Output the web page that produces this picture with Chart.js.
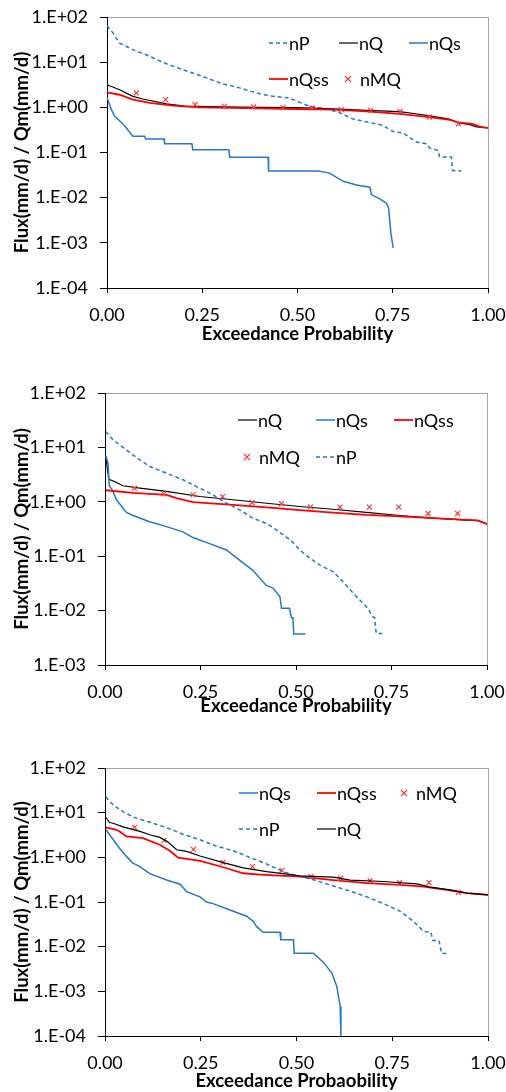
<!DOCTYPE html>
<html><head><meta charset="utf-8">
<script src="https://cdn.jsdelivr.net/npm/chart.js@4.4.1/dist/chart.umd.min.js"></script>
<style>
html,body{margin:0;padding:0;background:#fff;width:506px;height:1092px;overflow:hidden;}
.box{position:absolute;left:0;width:506px;}
canvas{display:block;}
</style></head><body>
<div class="box" style="top:0px;height:345px"><canvas id="c1" width="506" height="345"></canvas></div>
<div class="box" style="top:345px;height:372px"><canvas id="c2" width="506" height="372"></canvas></div>
<div class="box" style="top:717px;height:375px"><canvas id="c3" width="506" height="375"></canvas></div>
<script>
// ---------- shared tick data ----------
const xTickValues = [0, 0.25, 0.5, 0.75, 1];
const xTickLabels = ['0.00', '0.25', '0.50', '0.75', '1.00'];
const yTickValues6 = [1e-4, 1e-3, 1e-2, 1e-1, 1, 10, 100];
const yTickLabels6 = ['1.E-04', '1.E-03', '1.E-02', '1.E-01', '1.E+00', '1.E+01', '1.E+02'];
const yTickValues5 = [1e-3, 1e-2, 1e-1, 1, 10, 100];
const yTickLabels5 = ['1.E-03', '1.E-02', '1.E-01', '1.E+00', '1.E+01', '1.E+02'];
const yTitle = 'Flux(mm/d) / Qm(mm/d)';
const xTitle1 = 'Exceedance Probability';
const xTitle2 = 'Exceedance Probability';
const xTitle3 = 'Exceedance Probaobility';
const nMQ_x = [0.077, 0.154, 0.231, 0.308, 0.385, 0.462, 0.538, 0.615, 0.692, 0.769, 0.846, 0.923];

// ---------- chart 1 ----------
const c1_nP_x = [0, 0.016, 0.033, 0.068, 0.103, 0.156, 0.199, 0.252, 0.304, 0.348, 0.392, 0.427, 0.479, 0.532, 0.584, 0.611, 0.646, 0.690, 0.724, 0.751, 0.777, 0.812, 0.838, 0.847, 0.869, 0.873, 0.904, 0.907, 0.930];
const c1_nP_y = [64, 44, 26.5, 18.9, 14.6, 9.2, 6.8, 4.8, 3.3, 2.7, 2.08, 1.8, 1.6, 1.05, 0.89, 0.76, 0.55, 0.46, 0.40, 0.29, 0.27, 0.17, 0.157, 0.126, 0.111, 0.079, 0.079, 0.040, 0.039];
const c1_nQ_x = [0, 0.033, 0.068, 0.094, 0.156, 0.204, 0.30, 0.40, 0.50, 0.593, 0.681, 0.768, 0.81, 0.847, 0.899, 0.921, 0.95, 0.97, 1.0];
const c1_nQ_y = [3.17, 2.45, 1.75, 1.53, 1.19, 1.06, 1.02, 1.0, 0.99, 0.92, 0.86, 0.80, 0.72, 0.65, 0.55, 0.45, 0.42, 0.37, 0.35];
const c1_nQs_x = [0, 0.0115, 0.020, 0.038, 0.051, 0.064, 0.068, 0.099, 0.101, 0.150, 0.151, 0.223, 0.225, 0.320, 0.322, 0.423, 0.424, 0.554, 0.584, 0.620, 0.655, 0.690, 0.694, 0.716, 0.733, 0.739, 0.745, 0.751];
const c1_nQs_y = [1.66, 0.89, 0.63, 0.46, 0.35, 0.25, 0.23, 0.23, 0.20, 0.20, 0.157, 0.157, 0.115, 0.115, 0.078, 0.078, 0.039, 0.039, 0.035, 0.023, 0.019, 0.017, 0.0117, 0.0094, 0.0076, 0.0059, 0.00166, 0.00077];
const c1_nQss_x = [0, 0.033, 0.068, 0.112, 0.173, 0.243, 0.40, 0.462, 0.593, 0.681, 0.768, 0.847, 0.90, 0.925, 0.96, 0.98, 1.0];
const c1_nQss_y = [2.14, 1.9, 1.48, 1.25, 1.09, 1.0, 0.95, 0.93, 0.89, 0.81, 0.72, 0.61, 0.53, 0.46, 0.43, 0.37, 0.35];
const c1_nMQ_y = [2.08, 1.48, 1.14, 1.05, 1.02, 1.0, 0.97, 0.89, 0.86, 0.81, 0.61, 0.43];

// ---------- chart 2 ----------
const c2_nQ_x = [0.002, 0.010, 0.025, 0.047, 0.091, 0.161, 0.248, 0.335, 0.423, 0.510, 0.597, 0.684, 0.772, 0.859, 0.946, 0.976, 1.0];
const c2_nQ_y = [6.8, 2.6, 2.36, 1.97, 1.78, 1.55, 1.25, 1.09, 0.94, 0.82, 0.73, 0.64, 0.56, 0.50, 0.46, 0.45, 0.39];
const c2_nQs_x = [0.002, 0.008, 0.011, 0.021, 0.030, 0.056, 0.073, 0.117, 0.161, 0.204, 0.230, 0.274, 0.318, 0.353, 0.387, 0.422, 0.440, 0.458, 0.462, 0.483, 0.488, 0.492, 0.494, 0.525];
const c2_nQs_y = [7.0, 5.1, 2.0, 1.55, 1.09, 0.64, 0.56, 0.43, 0.35, 0.28, 0.22, 0.17, 0.13, 0.084, 0.055, 0.029, 0.026, 0.018, 0.011, 0.011, 0.0074, 0.0074, 0.0037, 0.0037];
const c2_nQss_x = [0.002, 0.073, 0.161, 0.187, 0.230, 0.335, 0.423, 0.510, 0.597, 0.684, 0.772, 0.859, 0.946, 0.976, 1.0];
const c2_nQss_y = [1.63, 1.46, 1.34, 1.17, 0.99, 0.88, 0.79, 0.70, 0.635, 0.575, 0.54, 0.50, 0.466, 0.455, 0.39];
const c2_nMQ_y = [1.78, 1.40, 1.34, 1.25, 0.97, 0.92, 0.81, 0.80, 0.80, 0.80, 0.61, 0.61];
const c2_nP_x = [0.002, 0.021, 0.073, 0.117, 0.161, 0.204, 0.248, 0.283, 0.318, 0.353, 0.387, 0.423, 0.466, 0.490, 0.510, 0.536, 0.562, 0.597, 0.623, 0.655, 0.680, 0.688, 0.700, 0.706, 0.710, 0.726];
const c2_nP_y = [19.6, 13.8, 7.3, 4.46, 3.36, 2.54, 1.78, 1.34, 0.94, 0.71, 0.50, 0.40, 0.25, 0.186, 0.13, 0.092, 0.069, 0.052, 0.034, 0.019, 0.0127, 0.011, 0.0078, 0.0074, 0.0038, 0.0038];

// ---------- chart 3 ----------
const c3_nQs_x = [0.002, 0.021, 0.038, 0.056, 0.073, 0.091, 0.117, 0.161, 0.196, 0.213, 0.248, 0.265, 0.282, 0.335, 0.370, 0.387, 0.396, 0.413, 0.457, 0.459, 0.492, 0.494, 0.544, 0.570, 0.592, 0.605, 0.614, 0.616];
const c3_nQs_y = [4.2, 2.5, 1.6, 1.05, 0.74, 0.62, 0.43, 0.31, 0.25, 0.17, 0.13, 0.10, 0.092, 0.062, 0.048, 0.037, 0.028, 0.021, 0.021, 0.0142, 0.0142, 0.0071, 0.0071, 0.0045, 0.0026, 0.0013, 0.00046, 0.0001];
const c3_nQss_x = [0.002, 0.030, 0.038, 0.056, 0.099, 0.143, 0.169, 0.191, 0.248, 0.309, 0.361, 0.405, 0.509, 0.596, 0.684, 0.771, 0.832, 0.901, 0.945, 1.0];
const c3_nQss_y = [4.7, 4.14, 3.8, 2.93, 2.69, 1.91, 1.4, 0.98, 0.83, 0.6, 0.44, 0.41, 0.37, 0.31, 0.265, 0.243, 0.22, 0.182, 0.158, 0.145];
const c3_nMQ_y = [4.7, 2.4, 1.5, 0.77, 0.62, 0.51, 0.37, 0.34, 0.30, 0.27, 0.27, 0.165];
const c3_nP_x = [0.002, 0.021, 0.047, 0.073, 0.117, 0.161, 0.204, 0.248, 0.291, 0.335, 0.378, 0.422, 0.465, 0.487, 0.509, 0.536, 0.588, 0.640, 0.684, 0.727, 0.771, 0.805, 0.832, 0.851, 0.856, 0.872, 0.879, 0.894];
const c3_nP_y = [22.8, 15, 10.6, 8.0, 6.1, 4.6, 3.3, 2.47, 1.78, 1.4, 1.0, 0.71, 0.48, 0.42, 0.37, 0.33, 0.24, 0.175, 0.13, 0.092, 0.062, 0.037, 0.022, 0.021, 0.0138, 0.0138, 0.0070, 0.0070];
const c3_nQ_x = [0.002, 0.012, 0.021, 0.047, 0.091, 0.117, 0.143, 0.163, 0.187, 0.213, 0.248, 0.309, 0.361, 0.422, 0.465, 0.509, 0.596, 0.640, 0.727, 0.814, 0.849, 0.901, 0.945, 1.0];
const c3_nQ_y = [7.9, 6.0, 5.8, 4.8, 3.8, 3.2, 2.8, 2.26, 1.48, 1.36, 1.07, 0.76, 0.58, 0.48, 0.43, 0.385, 0.36, 0.31, 0.288, 0.255, 0.215, 0.187, 0.158, 0.145];

// ---------- styling ----------
const BLUE = 'rgb(36,120,204)';
const RED = 'rgb(255,0,0)';
const MARK = 'rgb(245,60,60)';
const BLACK = '#000';
const FONT = 'Lato, "Liberation Sans", sans-serif';
Chart.defaults.font.family = FONT;
Chart.defaults.color = '#000';

function pts(xs, ys) { return xs.map((x, i) => ({ x: x, y: ys[i] })); }

function ds(label, xs, ys) {
  const base = { label: label, data: pts(xs, ys), pointRadius: 0, fill: false, tension: 0 };
  if (label === 'nP') return Object.assign(base, { borderColor: BLUE, borderWidth: 1.5, borderDash: [4, 3] });
  if (label === 'nQ') return Object.assign(base, { borderColor: BLACK, borderWidth: 1.2 });
  if (label === 'nQs') return Object.assign(base, { borderColor: BLUE, borderWidth: 1.5 });
  if (label === 'nQss') return Object.assign(base, { borderColor: RED, borderWidth: 1.8 });
  return Object.assign(base, { showLine: false, pointRadius: 3.5, pointStyle: 'crossRot', borderColor: MARK, backgroundColor: MARK, pointBorderWidth: 1.2, borderWidth: 1.2 });
}

const framePlugin = {
  id: 'frame',
  beforeDraw(chart) {
    const a = chart.chartArea, c = chart.ctx;
    c.save();
    c.strokeStyle = '#a6a6a6';
    c.lineWidth = 1;
    c.strokeRect(Math.round(a.left) + 0.5, Math.round(a.top) + 0.5, Math.round(a.right - a.left), Math.round(a.bottom - a.top));
    c.restore();
  }
};

const legendPlugin = {
  id: 'customLegend',
  afterDraw(chart, args, opts) {
    const c = chart.ctx;
    c.save();
    c.font = '18px ' + FONT;
    c.textBaseline = 'middle';
    c.textAlign = 'left';
    (opts.items || []).forEach(it => {
      const d = chart.data.datasets.find(s => s.label === it.label);
      if (!d) return;
      if (d.showLine === false) {
        const r = 3;
        c.strokeStyle = d.borderColor; c.lineWidth = 1.2; c.setLineDash([]);
        c.beginPath();
        c.moveTo(it.x - r, it.y - r); c.lineTo(it.x + r, it.y + r);
        c.moveTo(it.x + r, it.y - r); c.lineTo(it.x - r, it.y + r);
        c.stroke();
        c.fillStyle = '#000';
        c.fillText(it.label, it.x + 12, it.y + 1);
      } else {
        c.strokeStyle = d.borderColor; c.lineWidth = d.borderWidth; c.setLineDash(d.borderDash || []);
        c.beginPath(); c.moveTo(it.x, it.y); c.lineTo(it.x + 19, it.y); c.stroke();
        c.setLineDash([]);
        c.fillStyle = '#000';
        c.fillText(it.label, it.x + 20, it.y + 1);
      }
    });
    c.restore();
  }
};

function makeChart(id, g) {
  const n = g.datasets.length;
  g.datasets.forEach((d, i) => { d.order = n - i; });
  return new Chart(document.getElementById(id), {
    type: 'line',
    data: { datasets: g.datasets },
    plugins: [framePlugin, legendPlugin],
    options: {
      responsive: false, animation: false, devicePixelRatio: 1,
      layout: { padding: { top: g.top, right: g.right, left: 0, bottom: 0 } },
      plugins: { legend: { display: false }, tooltip: { enabled: false }, customLegend: { items: g.legend } },
      scales: {
        x: {
          type: 'linear', min: 0, max: 1,
          afterBuildTicks: s => { s.ticks = xTickValues.map(v => ({ value: v })); },
          afterFit: s => { s.height = g.H - g.bottom; },
          ticks: { callback: (v, i) => xTickLabels[i], padding: 0, font: { size: 18, lineHeight: 2.44 }, color: '#000', maxRotation: 0, autoSkip: false },
          grid: { display: true, drawOnChartArea: false, drawTicks: true, tickLength: 5, color: '#000', lineWidth: 1 },
          border: { display: true, color: '#000', width: 1 },
          title: { display: true, text: g.xTitle, font: { size: 18.5, weight: 'bold' }, color: '#000', padding: { top: 0, bottom: 0 } }
        },
        y: {
          type: 'logarithmic', min: g.yVals[0], max: 100,
          afterBuildTicks: s => { s.ticks = g.yVals.map(v => ({ value: v })); },
          afterFit: s => { s.width = g.left; },
          ticks: { callback: (v, i) => g.yLabels[i], padding: 12, font: { size: 18, lineHeight: 0.5 }, color: '#000', autoSkip: false },
          grid: { display: true, drawOnChartArea: false, drawTicks: true, tickLength: 7, color: '#000', lineWidth: 1 },
          border: { display: true, color: '#000', width: 1 },
          title: { display: true, text: yTitle, font: { size: 18.5, weight: 'bold' }, color: '#000', padding: { top: 11, bottom: 0 } }
        }
      }
    }
  });
}

makeChart('c1', {
  H: 345, top: 17, bottom: 288, left: 107, right: 18, xTitle: xTitle1,
  yVals: yTickValues6, yLabels: yTickLabels6,
  datasets: [ds('nP', c1_nP_x, c1_nP_y), ds('nQ', c1_nQ_x, c1_nQ_y), ds('nQs', c1_nQs_x, c1_nQs_y), ds('nQss', c1_nQss_x, c1_nQss_y), ds('nMQ', nMQ_x, c1_nMQ_y)],
  legend: [
    { label: 'nP', x: 269, y: 43 }, { label: 'nQ', x: 339, y: 43 }, { label: 'nQs', x: 409, y: 43 },
    { label: 'nQss', x: 269, y: 79 }, { label: 'nMQ', x: 348, y: 79 }
  ]
});
makeChart('c2', {
  H: 372, top: 48, bottom: 320, left: 105, right: 19, xTitle: xTitle2,
  yVals: yTickValues5, yLabels: yTickLabels5,
  datasets: [ds('nQ', c2_nQ_x, c2_nQ_y), ds('nQs', c2_nQs_x, c2_nQs_y), ds('nQss', c2_nQss_x, c2_nQss_y), ds('nMQ', nMQ_x, c2_nMQ_y), ds('nP', c2_nP_x, c2_nP_y)],
  legend: [
    { label: 'nQ', x: 238, y: 75 }, { label: 'nQs', x: 316, y: 75 }, { label: 'nQss', x: 394, y: 75 },
    { label: 'nMQ', x: 247, y: 112 }, { label: 'nP', x: 316, y: 112 }
  ]
});
makeChart('c3', {
  H: 375, top: 51, bottom: 319, left: 105, right: 18, xTitle: xTitle3,
  yVals: yTickValues6, yLabels: yTickLabels6,
  datasets: [ds('nQs', c3_nQs_x, c3_nQs_y), ds('nQss', c3_nQss_x, c3_nQss_y), ds('nMQ', nMQ_x, c3_nMQ_y), ds('nP', c3_nP_x, c3_nP_y), ds('nQ', c3_nQ_x, c3_nQ_y)],
  legend: [
    { label: 'nQs', x: 239, y: 76 }, { label: 'nQss', x: 317, y: 76 }, { label: 'nMQ', x: 404, y: 76 },
    { label: 'nP', x: 239, y: 112 }, { label: 'nQ', x: 317, y: 112 }
  ]
});
</script>
</body></html>
